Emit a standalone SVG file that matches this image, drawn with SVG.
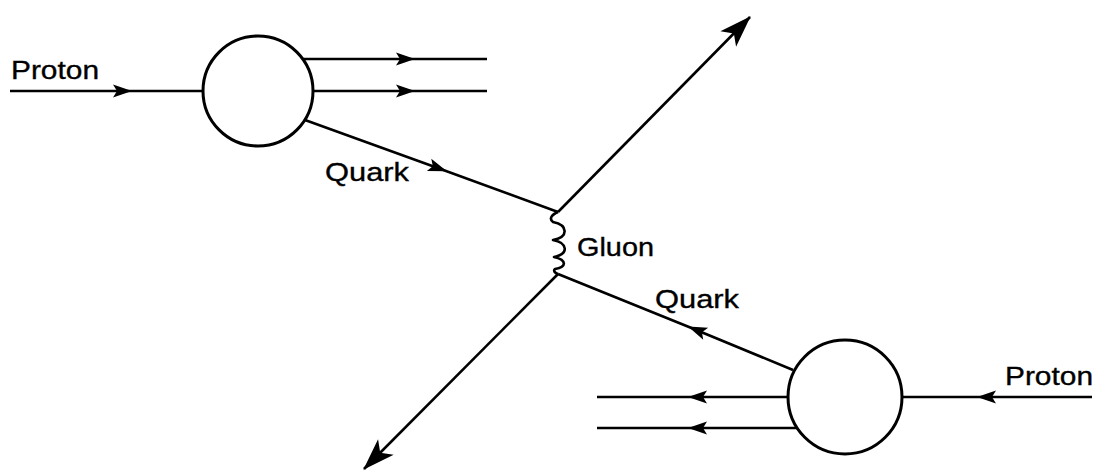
<svg xmlns="http://www.w3.org/2000/svg" width="1099" height="472" viewBox="0 0 1099 472">
<style>
.ln{fill:none;stroke:#000;stroke-width:2.6;stroke-linecap:butt;stroke-linejoin:round}
.mid{marker-mid:url(#ah)}
.end{marker-end:url(#big)}
.node{fill:#fff;stroke:#000;stroke-width:3}
.lb{font-family:"Liberation Sans",Arial,sans-serif;font-size:26px;fill:#000;stroke:#000;stroke-width:0.35}
</style>
<defs>
<marker id="ah" markerUnits="userSpaceOnUse" viewBox="-22 -8 24 16" refX="0" refY="0" markerWidth="24" markerHeight="16" orient="auto" overflow="visible">
<path d="M1,0 L-18,-6.5 L-14,0 L-18,6.5 Z" fill="#000"/>
</marker>
<marker id="big" markerUnits="userSpaceOnUse" viewBox="-32 -12 34 24" refX="0" refY="0" markerWidth="34" markerHeight="24" orient="auto" overflow="visible">
<path d="M1,0 L-31,-11 L-23,0 L-31,11 Z" fill="#000"/>
</marker>
</defs>
<g id="connectors">
<path class="ln mid" d="M10,91 L131,91 L203,91"/>
<path class="ln mid" d="M303,59 L414,59 L487,59"/>
<path class="ln mid" d="M313,91 L414,91 L487,91"/>
<path class="ln mid" d="M305,120 L446,171 L558,212"/>
<path class="ln end" d="M558,212 L750,17"/>
<path class="ln end" d="M558,274 L364,469"/>
<path class="ln mid" d="M793,370 L689,327 L558,274"/>
<path class="ln mid" d="M1092,397 L978,397 L902,397"/>
<path class="ln mid" d="M788,397 L689,397 L597,397"/>
<path class="ln mid" d="M797,428 L689,428 L597,428"/>
<path class="ln" d="M558,212 C551,215 549,219 553,222 C568,225 569,237 553,240 C568,243 569,254 554,257 C567,260 567,267 555,269 C553,271 555,273 558,274"/>
</g>
<g id="proton-top-node"><circle class="node" cx="258" cy="91" r="55"/></g>
<g id="proton-bottom-node"><circle class="node" cx="845" cy="397" r="57"/></g>
<g id="labels">
<text class="lb" x="11" y="79" textLength="88" lengthAdjust="spacingAndGlyphs">Proton</text>
<text class="lb" x="325" y="181" textLength="84" lengthAdjust="spacingAndGlyphs">Quark</text>
<text class="lb" x="577" y="256" textLength="77" lengthAdjust="spacingAndGlyphs">Gluon</text>
<text class="lb" x="655" y="308" textLength="84" lengthAdjust="spacingAndGlyphs">Quark</text>
<text class="lb" x="1005" y="385" textLength="88" lengthAdjust="spacingAndGlyphs">Proton</text>
</g>
</svg>
